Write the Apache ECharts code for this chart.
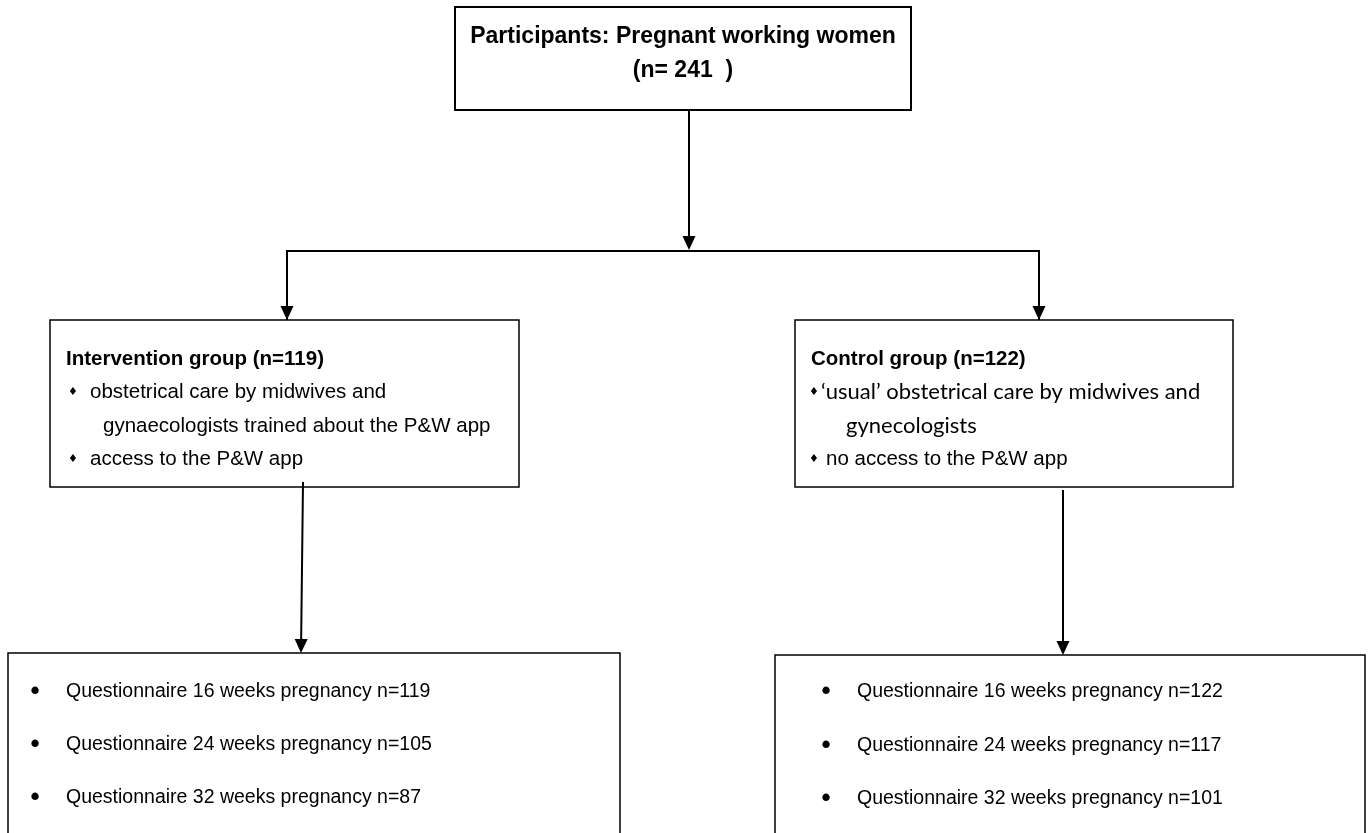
<!DOCTYPE html>
<html>
<head>
<meta charset="utf-8">
<script src="https://cdn.jsdelivr.net/npm/echarts@6/dist/echarts.min.js"></script>
<style>
html,body{margin:0;padding:0;background:#fff;}
#chart{width:1370px;height:833px;}
</style>
</head>
<body>
<div id="chart"></div>
<script>
// ---------- data ----------
const titleLabel = 'Participants: Pregnant working women';
const totalN = 241;
const groupNames = ['Intervention group', 'Control group'];
const groupN = [119, 122];
const interventionItems = ['obstetrical care by midwives and', 'gynaecologists trained about the P&W app', 'access to the P&W app'];
const controlItems = ['\u2018usual\u2019 obstetrical care by midwives and', 'gynecologists', 'no access to the P&W app'];
const weeks = [16, 24, 32];
const interventionN = [119, 105, 87];
const controlN = [122, 117, 101];

// ---------- layout (canvas units) ----------
const boxes = [
  {r: [455, 7, 911, 110], w: 2},
  {r: [50, 320, 519, 487], w: 1.5},
  {r: [795, 320, 1233, 487], w: 1.5},
  {r: [8, 653, 620, 845], w: 1.5},
  {r: [775, 655, 1365, 845], w: 1.5}
];
const connectors = [
  {pts: [[689, 110], [689, 250]], arrow: true},
  {pts: [[287, 320], [287, 251], [1039, 251], [1039, 320]], arrow: false},
  {pts: [[287, 251], [287, 320]], arrow: true},
  {pts: [[1039, 251], [1039, 320]], arrow: true},
  {pts: [[303, 482], [301, 653]], arrow: true},
  {pts: [[1063, 490], [1063, 655]], arrow: true}
];

const ARIAL = '"Liberation Sans", Arial, sans-serif';
const CALIBRI = 'Lato, "Open Sans", sans-serif';

const texts = [];
texts.push({x: 683, y: 37, t: titleLabel, f: 'bold 23px ' + ARIAL, a: 'center'});
texts.push({x: 683, y: 71, t: '(n= ' + totalN + '  )', f: 'bold 23px ' + ARIAL, a: 'center'});
// intervention box
texts.push({x: 66, y: 359, t: groupNames[0] + ' (n=' + groupN[0] + ')', f: 'bold 20.5px ' + ARIAL, a: 'left'});
texts.push({x: 68, y: 392, t: '\u2666', f: '11px "DejaVu Sans"', a: 'left'});
texts.push({x: 90, y: 392, t: interventionItems[0], f: '20.5px ' + ARIAL, a: 'left'});
texts.push({x: 103, y: 426, t: interventionItems[1], f: '20.5px ' + ARIAL, a: 'left'});
texts.push({x: 68, y: 459, t: '\u2666', f: '11px "DejaVu Sans"', a: 'left'});
texts.push({x: 90, y: 459, t: interventionItems[2], f: '20.5px ' + ARIAL, a: 'left'});
// control box
texts.push({x: 811, y: 359, t: groupNames[1] + ' (n=' + groupN[1] + ')', f: 'bold 20.5px ' + ARIAL, a: 'left'});
texts.push({x: 809, y: 392, t: '\u2666', f: '11px "DejaVu Sans"', a: 'left'});
texts.push({x: 821, y: 392, t: controlItems[0], f: '22px ' + CALIBRI, a: 'left'});
texts.push({x: 846, y: 426, t: controlItems[1], f: '22px ' + CALIBRI, a: 'left'});
texts.push({x: 809, y: 459, t: '\u2666', f: '11px "DejaVu Sans"', a: 'left'});
texts.push({x: 826, y: 459, t: controlItems[2], f: '20.5px ' + ARIAL, a: 'left'});
// bottom boxes
const rowY = [[692, 745, 798], [692, 746, 799]];
[interventionN, controlN].forEach(function (arr, g) {
  const bx = g === 0 ? 35 : 826;
  const tx = g === 0 ? 66 : 857;
  weeks.forEach(function (w, i) {
    texts.push({x: bx, y: rowY[g][i], t: '\u2022', f: 'bold 26px ' + ARIAL, a: 'center'});
    texts.push({x: tx, y: rowY[g][i], t: 'Questionnaire ' + w + ' weeks pregnancy n=' + arr[i], f: '19.5px ' + ARIAL, a: 'left'});
  });
});

const chart = echarts.init(document.getElementById('chart'), null, {renderer: 'canvas'});

function idxData(n) { const d = []; for (let i = 0; i < n; i++) d.push([i]); return d; }

chart.setOption({
  animation: false,
  backgroundColor: '#fff',
  grid: {left: 0, right: 0, top: 0, bottom: 0, containLabel: false},
  xAxis: {type: 'value', min: 0, max: 1370, show: false},
  yAxis: {type: 'value', min: 0, max: 833, inverse: true, show: false},
  series: [
    {
      type: 'custom', clip: false, silent: true, z: 1,
      data: idxData(boxes.length),
      renderItem: function (params, api) {
        const bx = boxes[api.value(0)];
        const b = bx.r;
        const p1 = api.coord([b[0], b[1]]);
        const p2 = api.coord([b[2], b[3]]);
        return {type: 'rect', shape: {x: p1[0], y: p1[1], width: p2[0] - p1[0], height: p2[1] - p1[1]},
          style: {fill: '#fff', stroke: '#000', lineWidth: bx.w}};
      }
    },
    {
      type: 'custom', clip: false, silent: true, z: 2,
      data: idxData(connectors.length),
      renderItem: function (params, api) {
        const c = connectors[api.value(0)];
        const pts = c.pts.map(function (p) { return api.coord(p); });
        const children = [];
        const end = pts[pts.length - 1];
        const prev = pts[pts.length - 2];
        let linePts = pts.slice();
        if (c.arrow) {
          const dx = end[0] - prev[0], dy = end[1] - prev[1];
          const len = Math.sqrt(dx * dx + dy * dy);
          const ux = dx / len, uy = dy / len;
          const hl = 14, hw = 6.5;
          const base = [end[0] - ux * hl, end[1] - uy * hl];
          linePts[linePts.length - 1] = [base[0] + ux * 2, base[1] + uy * 2];
          children.push({type: 'polygon', shape: {points: [end, [base[0] - uy * hw, base[1] + ux * hw], [base[0] + uy * hw, base[1] - ux * hw]]},
            style: {fill: '#000', stroke: null}});
        }
        children.unshift({type: 'polyline', shape: {points: linePts}, style: {stroke: '#000', lineWidth: 2, fill: null}});
        return {type: 'group', children: children};
      }
    },
    {
      type: 'custom', clip: false, silent: true, z: 3,
      data: idxData(texts.length),
      renderItem: function (params, api) {
        const t = texts[api.value(0)];
        const p = api.coord([t.x, t.y]);
        return {type: 'text', style: {text: t.t, x: p[0], y: p[1], font: t.f, fill: '#000', align: t.a, verticalAlign: 'middle'}};
      }
    }
  ]
});
</script>
</body>
</html>
